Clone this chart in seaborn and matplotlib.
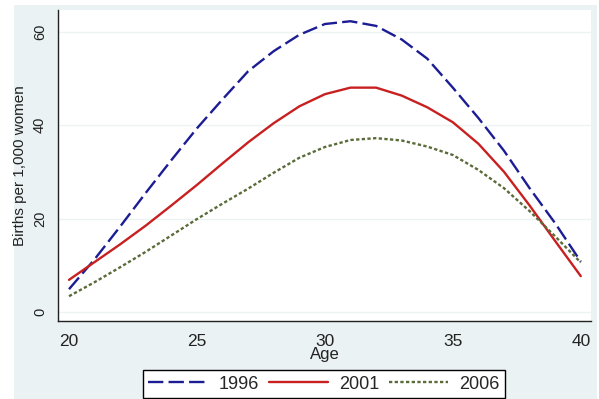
import numpy as np
import pandas as pd
import matplotlib
matplotlib.use('Agg')
import matplotlib.pyplot as plt
from matplotlib.patches import Rectangle
import seaborn as sns

# 数据：各年龄段每千名女性生育数
ages = list(range(20, 41))
births_1996 = [4.9, 11.3, 18.3, 25.5, 32.5, 39.3, 45.5, 51.5, 55.8, 59.3, 61.6,
               62.2, 61.2, 58.3, 54.2, 48.0, 41.5, 34.5, 26.5, 19.0, 10.8]
births_2001 = [6.9, 10.7, 14.5, 18.5, 22.8, 27.2, 31.8, 36.3, 40.4, 44.0, 46.6,
               48.0, 48.0, 46.3, 43.8, 40.6, 36.0, 30.0, 22.8, 15.2, 7.7]
births_2006 = [3.4, 6.4, 9.6, 12.9, 16.4, 19.9, 23.2, 26.4, 29.8, 33.0, 35.3,
               36.8, 37.2, 36.7, 35.4, 33.6, 30.4, 26.5, 21.6, 16.2, 10.6]
years = ['1996', '2001', '2006']
y_ticks = [0, 20, 40, 60]
x_ticks = [20, 25, 30, 35, 40]

df = pd.DataFrame({
    'Age': ages * 3,
    'Births': births_1996 + births_2001 + births_2006,
    'Year': [y for y in years for _ in ages],
})

sns.set_style('white')
plt.rcParams['font.family'] = ['Liberation Sans', 'DejaVu Sans']

colors = {'1996': '#1c1c94', '2001': '#c82020', '2006': '#5a6b3a'}
dashes = {'1996': (6.5, 2.2), '2001': '', '2006': (1.4, 1.0)}

fig = plt.figure(figsize=(5.99, 3.99), dpi=100, facecolor='white')
# Stata 风格的灰蓝色背景
fig.patches.append(Rectangle((14 / 599, 0), (597 - 14) / 599, 1 - 5 / 399,
                             transform=fig.transFigure, facecolor='#eaf2f3',
                             edgecolor='none', zorder=-10))
ax = fig.add_axes([58 / 599, 1 - 321 / 399, (591 - 58) / 599, (321 - 10) / 399])
ax.set_facecolor('white')

sns.lineplot(data=df, x='Age', y='Births', hue='Year', style='Year',
             palette=colors, dashes=dashes, linewidth=1.7, ax=ax)

ax.set_xlim(19.57, 40.4)
ax.set_ylim(-1.9, 64.6)
ax.set_xticks(x_ticks)
ax.set_yticks(y_ticks)
ax.grid(axis='y', color='#edf2f2', linewidth=1.0)
ax.grid(axis='x', visible=False)

for s in ['top', 'right']:
    ax.spines[s].set_visible(False)
for s in ['left', 'bottom']:
    ax.spines[s].set_color('#222222')
    ax.spines[s].set_linewidth(1.0)

ax.tick_params(axis='x', direction='out', length=4, width=1, color='#222222',
               labelsize=12.5, pad=5, labelcolor='#222222')
ax.tick_params(axis='y', direction='out', length=5, width=1, color='#222222',
               labelsize=10.5, pad=3, labelcolor='#222222')
for lab in ax.get_yticklabels():
    lab.set_rotation(90)
    lab.set_va('center')

ax.set_xlabel('Age', fontsize=12, labelpad=-1, color='#222222')
ax.set_ylabel('Births per 1,000 women', fontsize=11, labelpad=4, color='#222222')

handles, labels = ax.get_legend_handles_labels()
ax.get_legend().remove()
leg = fig.legend(handles, labels, ncol=3, loc='lower left',
                 bbox_to_anchor=(143 / 599, 1 / 399, (505 - 143) / 599, 28 / 399),
                 mode='expand', fontsize=13, frameon=True, fancybox=False,
                 edgecolor='black', facecolor='white', framealpha=1,
                 handlelength=3.3, handletextpad=0.6, columnspacing=1.4,
                 borderpad=0.3, borderaxespad=0)
leg.get_frame().set_linewidth(1.0)

fig.savefig('out.png', dpi=100, facecolor=fig.get_facecolor())
